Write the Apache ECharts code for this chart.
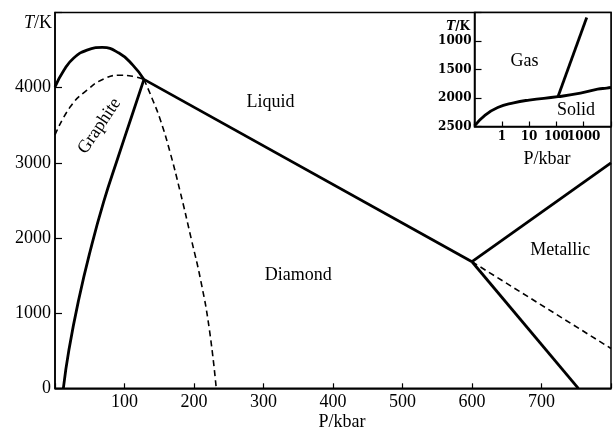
<!DOCTYPE html>
<html>
<head>
<meta charset="utf-8">
<script src="https://cdn.jsdelivr.net/npm/echarts@6/dist/echarts.min.js"></script>
<style>
html, body { margin: 0; padding: 0; background: #fff; }
#chart { width: 614px; height: 430px; }
</style>
</head>
<body>
<div id="chart"></div>
<script>
// main diagram: P in kbar, T in K
var graphiteMelt = [[0, 4010], [13, 4235], [27, 4395], [46, 4500], [68, 4535], [92, 4460], [112, 4300], [128, 4110]];
var graphiteMeta = [[0, 3370], [22, 3745], [46, 3967], [70, 4115], [94, 4165], [112, 4150], [128, 4110]];
var diamondMeta = [[128, 4110], [140, 3850], [152, 3560], [165, 3160], [180, 2620], [196, 1990], [210, 1420], [222, 790], [232, 0]];
var graphiteDiamond = [[12, 0], [20, 510], [34, 1175], [51, 1840], [70, 2480], [91, 3080], [110, 3610], [128, 4110]];
var diamondLiquid = [[128, 4110], [600, 1684]];
var liquidMetal = [[600, 1684], [800, 3000]];
var diamondMetal = [[600, 1684], [753, 0]];
var metalMeta = [[600, 1684], [800, 530]];

// inset: log P, inverted T
var solidGas = [[0.1, 2490], [0.24, 2304], [0.71, 2166], [2.7, 2084], [10, 2036], [114, 1977], [760, 1916], [3240, 1845], [7000, 1827], [10000, 1815]];
var gasLine = [[114, 1977], [1290, 589]];

// region labels [text, x, y, grid]
var regionLabels = [
    ['Liquid', 310, 3800, 0],
    ['Diamond', 350, 1500, 0],
    ['Metallic', 727, 1840, 0],
    ['Gas', 6.8, 1357, 1],
    ['Solid', 525, 2214, 1]
];

var serif = 'Liberation Serif';
var insetFont = 'DejaVu Serif';
var black = '#000';
var mainFont = '18px "' + serif + '"';

function solid(data, xi, smooth) {
    return {
        type: 'line', data: data, xAxisIndex: xi, yAxisIndex: xi,
        showSymbol: false, smooth: smooth ? 0.5 : false,
        lineStyle: { color: black, width: 2.8 }, silent: true
    };
}
function dashed(data, smooth) {
    return {
        type: 'line', data: data, showSymbol: false, smooth: smooth ? 0.5 : false,
        lineStyle: { color: black, width: 1.6, type: [6, 4] }, silent: true
    };
}

var chart = echarts.init(document.getElementById('chart'));

var option = {
    animation: false,
    backgroundColor: '#fff',
    grid: [
        { left: 55, top: 12.5, right: -2.6, bottom: 41.7, show: true, borderColor: black, borderWidth: 1.5 },
        { left: 474.5, top: 12.5, right: -4.5, bottom: 303.5, show: true, borderColor: black, borderWidth: 1.5, backgroundColor: '#fff' }
    ],
    xAxis: [{
        type: 'value', min: 0, max: 800, interval: 100, gridIndex: 0,
        axisLine: { lineStyle: { color: black, width: 1.5 } },
        axisTick: { inside: true, length: 5, lineStyle: { color: black, width: 1.2 } },
        axisLabel: {
            color: black, fontFamily: serif, fontSize: 18, margin: 5,
            formatter: function (v) { return (v === 0 || v === 800) ? '' : v; }
        },
        splitLine: { show: false }
    }, {
        type: 'log', logBase: 10, min: 0.1, max: 10000, gridIndex: 1,
        axisLine: { lineStyle: { color: black, width: 1.5 } },
        axisTick: { inside: true, length: 5, lineStyle: { color: black, width: 1.2 } },
        minorTick: { show: false },
        axisLabel: {
            color: black, fontFamily: insetFont, fontSize: 12, fontWeight: 'bold', margin: 4,
            formatter: function (v) { return (v >= 0.9 && v <= 1100) ? String(Math.round(v)) : ''; }
        },
        splitLine: { show: false }
    }],
    yAxis: [{
        type: 'value', min: 0, max: 5000, interval: 1000, gridIndex: 0,
        axisLine: { lineStyle: { color: black, width: 1.5 } },
        axisTick: { inside: true, length: 7, lineStyle: { color: black, width: 1.2 } },
        axisLabel: {
            color: black, fontFamily: serif, fontSize: 18, margin: 4,
            formatter: function (v) { return v === 5000 ? '' : v; }
        },
        splitLine: { show: false }
    }, {
        type: 'value', min: 500, max: 2500, interval: 500, inverse: true, gridIndex: 1,
        axisLine: { lineStyle: { color: black, width: 1.5 } },
        axisTick: { inside: true, length: 7, lineStyle: { color: black, width: 1.2 } },
        axisLabel: {
            color: black, fontFamily: insetFont, fontSize: 12, fontWeight: 'bold', margin: 3,
            formatter: function (v) { return v === 500 ? '' : v; }
        },
        splitLine: { show: false }
    }],
    series: [
        solid(graphiteMelt, 0, true),
        dashed(graphiteMeta, true),
        dashed(diamondMeta, true),
        solid(graphiteDiamond, 0, true),
        solid(diamondLiquid, 0, false),
        solid(liquidMetal, 0, false),
        solid(diamondMetal, 0, false),
        dashed(metalMeta, false),
        solid(solidGas, 1, true),
        solid(gasLine, 1, false)
    ]
};
chart.setOption(option);

// text labels placed from data coordinates
var graphics = [];
regionLabels.forEach(function (l) {
    var p = chart.convertToPixel({ gridIndex: l[3] }, [l[1], l[2]]);
    graphics.push({
        type: 'text', x: p[0], y: p[1],
        style: { text: l[0], fill: black, font: mainFont, align: 'center', verticalAlign: 'middle' }
    });
});
var gp = chart.convertToPixel({ gridIndex: 0 }, [64, 3490]);
graphics.push({
    type: 'text', x: gp[0], y: gp[1], rotation: 56 * Math.PI / 180,
    style: { text: 'Graphite', fill: black, font: mainFont, align: 'center', verticalAlign: 'middle' }
});
// axis names
graphics.push({
    type: 'text', x: 342, y: 422,
    style: { text: 'P/kbar', fill: black, font: mainFont, align: 'center', verticalAlign: 'middle' }
});
graphics.push({
    type: 'text', x: 547, y: 159,
    style: { text: 'P/kbar', fill: black, font: mainFont, align: 'center', verticalAlign: 'middle' }
});
graphics.push({
    type: 'text', x: 52, y: 23,
    style: {
        text: '{i|T}/K', fill: black, font: mainFont, align: 'right', verticalAlign: 'middle',
        rich: { i: { fontStyle: 'italic', fontFamily: serif, fontSize: 18, fill: black } }
    }
});
graphics.push({
    type: 'text', x: 470, y: 27,
    style: {
        text: '{i|T}/K', fill: black, font: 'bold 12px "' + insetFont + '"', align: 'right', verticalAlign: 'middle',
        rich: { i: { fontStyle: 'italic', fontWeight: 'bold', fontFamily: insetFont, fontSize: 12, fill: black } }
    }
});
chart.setOption({ graphic: graphics });
</script>
</body>
</html>
